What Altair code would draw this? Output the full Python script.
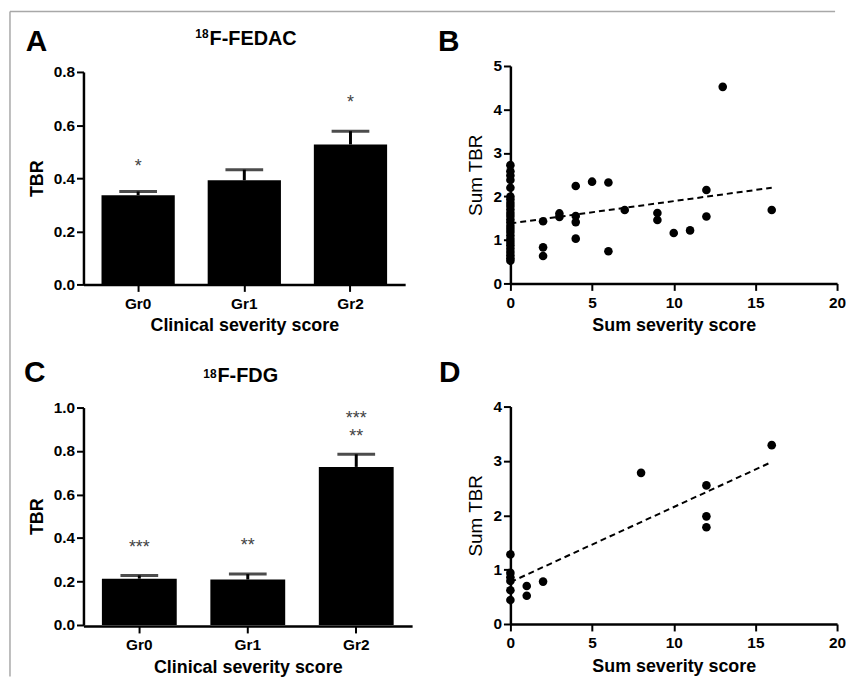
import altair as alt
import pandas as pd

# ---------------- data ----------------
groups = ["Gr0", "Gr1", "Gr2"]

fedac_mean = [0.336, 0.392, 0.527]
fedac_sem = [0.014, 0.040, 0.050]
fedac_sig_text = ["*", "*"]
fedac_sig_group = ["Gr0", "Gr2"]
fedac_sig_y = [0.46, 0.70]

fdg_mean = [0.213, 0.209, 0.727]
fdg_sem = [0.015, 0.025, 0.058]
fdg_sig_text = ["***", "**", "***", "**"]
fdg_sig_group = ["Gr0", "Gr1", "Gr2", "Gr2"]
fdg_sig_y = [0.379, 0.384, 0.970, 0.886]

# panel B scatter (sum severity score vs sum TBR, 18F-FEDAC)
b_score = [0] * 26 + [2, 2, 2, 3, 3, 4, 4, 4, 4, 5, 6, 6, 7, 9, 9, 10, 11, 12, 12, 13, 16]
b_tbr = [0.52, 0.58, 0.65, 0.72, 0.80, 0.88, 0.95, 1.02, 1.10, 1.18, 1.25, 1.32, 1.40,
         1.47, 1.55, 1.62, 1.70, 1.78, 1.85, 1.93, 2.00, 2.20, 2.38, 2.48, 2.58, 2.72,
         1.43, 0.83, 0.63, 1.61, 1.53, 2.24, 1.55, 1.41, 1.03, 2.34, 2.32, 0.74, 1.69,
         1.62, 1.46, 1.16, 1.22, 2.15, 1.54, 4.52, 1.69]
b_fit_x = [0, 16]
b_fit_y = [1.38, 2.20]

# panel D scatter (18F-FDG)
d_score = [0, 0, 0, 0, 0, 0, 1, 1, 2, 8, 12, 12, 12, 16]
d_tbr = [1.28, 0.94, 0.86, 0.79, 0.62, 0.44, 0.70, 0.52, 0.78, 2.78, 2.55, 1.98, 1.78, 3.29]
d_fit_x = [0, 16]
d_fit_y = [0.77, 2.98]

FONT = "Liberation Sans"


def text_layer(txt, x, y, size, weight="bold", align="left"):
    return alt.Chart(pd.DataFrame({"t": [txt]})).mark_text(
        font=FONT, fontSize=size, fontWeight=weight, align=align,
        baseline="alphabetic", color="black"
    ).encode(x=alt.value(x), y=alt.value(y), text="t:N")


def bar_panel(means, sems, sig_g, sig_y, sig_t, ymax, yvals, yrange,
              letter, letter_xy, sup_xy, main_xy, main_title):
    df = pd.DataFrame({"group": groups, "mean": means, "sem": sems})
    base = alt.Chart(df).transform_calculate(upper="datum.mean + datum.sem")
    xenc = alt.X("group:N", sort=groups,
                 scale=alt.Scale(paddingInner=0.31, paddingOuter=0.17),
                 axis=alt.Axis(title="Clinical severity score", labelAngle=0,
                               labelPadding=5, titlePadding=5))
    yscale = alt.Scale(domain=[0, ymax], range=yrange, nice=False)
    bars = base.mark_bar(color="black").encode(
        x=xenc,
        y=alt.Y("mean:Q", scale=yscale,
                axis=alt.Axis(title="TBR", values=yvals, format=".1f",
                              titlePadding=7, labelFlush=False, labelOverlap=False)),
    )
    stems = base.mark_rule(color="black", strokeWidth=3).encode(
        x=alt.X("group:N", sort=groups), y="mean:Q", y2="upper:Q")
    caps = base.mark_tick(color="black", thickness=3, size=38).encode(
        x=alt.X("group:N", sort=groups), y="upper:Q")
    sig = alt.Chart(pd.DataFrame({"group": sig_g, "y": sig_y, "t": sig_t})).mark_text(
        font=FONT, fontSize=18, color="#444", baseline="alphabetic", dy=10
    ).encode(x=alt.X("group:N", sort=groups), y="y:Q", text="t:N")
    return [bars, stems, caps, sig,
            text_layer(letter, letter_xy[0], letter_xy[1], 30),
            text_layer("18", sup_xy[0], sup_xy[1], 12, align="right"),
            text_layer(main_title, main_xy[0], main_xy[1], 20)]


def scatter_panel(xs, ys, fx, fy, ymax, yvals, letter, letter_xy):
    df = pd.DataFrame({"score": xs, "tbr": ys})
    fit = pd.DataFrame({"score": fx, "tbr": fy})
    xenc = alt.X("score:Q", scale=alt.Scale(domain=[0, 20], nice=False),
                 axis=alt.Axis(title="Sum severity score", values=[0, 5, 10, 15, 20],
                               format="d", labelFlush=False, labelPadding=5,
                               titlePadding=6))
    yenc = alt.Y("tbr:Q", scale=alt.Scale(domain=[0, ymax], nice=False),
                 axis=alt.Axis(title="Sum TBR", values=yvals, format="d",
                               labelFlush=False, titleFontWeight="normal",
                               titleFontSize=19, titlePadding=7))
    pts = alt.Chart(df).mark_circle(color="black", opacity=1, size=75).encode(x=xenc, y=yenc)
    line = alt.Chart(fit).mark_line(color="black", strokeWidth=2, strokeDash=[6, 4]).encode(
        x="score:Q", y="tbr:Q")
    return [line, pts, text_layer(letter, letter_xy[0], letter_xy[1], 30)]


# ---------------- panels ----------------
a_layers = bar_panel(fedac_mean, fedac_sem, fedac_sig_group, fedac_sig_y, fedac_sig_text,
                     0.8, [0, 0.2, 0.4, 0.6, 0.8], [220, 6],
                     "A", (-58, -15), (126, -28), (127, -21), "F-FEDAC")
frame_df = pd.DataFrame({"a": [0]})
frame_top = alt.Chart(frame_df).mark_rule(color="#a8a8a8", strokeWidth=1.5).encode(
    x=alt.value(-74), x2=alt.value(757), y=alt.value(-55))
frame_left = alt.Chart(frame_df).mark_rule(color="#a8a8a8", strokeWidth=1.5).encode(
    x=alt.value(-74), y=alt.value(-55), y2=alt.value(615))
panel_a = alt.layer(frame_top, frame_left, *a_layers).properties(width=324, height=220)

panel_b = alt.layer(*scatter_panel(b_score, b_tbr, b_fit_x, b_fit_y, 5, [0, 1, 2, 3, 4, 5],
                                   "B", (-73, -15))).properties(width=329, height=219)

c_layers = bar_panel(fdg_mean, fdg_sem, fdg_sig_group, fdg_sig_y, fdg_sig_text,
                     1.0, [0, 0.2, 0.4, 0.6, 0.8, 1.0], [220, 1],
                     "C", (-60, -25), (134, -29), (135, -25), "F-FDG")
panel_c = alt.layer(*c_layers).properties(width=331, height=221)

panel_d = alt.layer(*scatter_panel(d_score, d_tbr, d_fit_x, d_fit_y, 4, [0, 1, 2, 3, 4],
                                   "D", (-72, -25))).properties(width=329, height=219)

chart = alt.concat(
    panel_a, panel_b, panel_c, panel_d,
    columns=2, spacing={"row": 123, "column": 99}, bounds="flush",
).properties(
    padding={"left": 1, "top": 0, "right": 0, "bottom": 0},
    background="white",
).configure_view(stroke=None).configure_axis(
    domainColor="black", domainWidth=2.5, tickColor="black", tickWidth=2, tickSize=7,
    labelFont=FONT, labelFontSize=15.5, labelFontWeight="bold", labelColor="black",
    titleFont=FONT, titleFontSize=18, titleFontWeight="bold", titleColor="black",
    grid=False, labelPadding=2,
)

chart.save("out.html", embed_options={"renderer": "svg", "actions": False})
